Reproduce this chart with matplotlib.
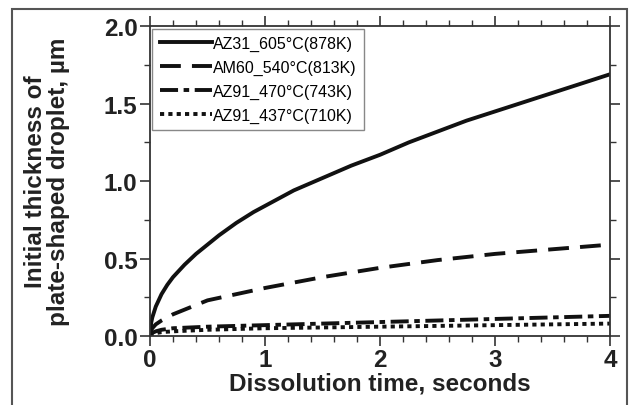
import matplotlib
matplotlib.use('Agg')
import matplotlib.pyplot as plt
from matplotlib.patches import Rectangle
from matplotlib.ticker import MultipleLocator

plt.rcParams['font.family'] = ['Liberation Sans', 'DejaVu Sans']
plt.rcParams['lines.scale_dashes'] = False

# values
t_az31 = [0, 0.01, 0.02, 0.05, 0.1, 0.15, 0.2, 0.3, 0.4, 0.5, 0.6, 0.75, 0.9, 1,
          1.25, 1.5, 1.75, 2, 2.25, 2.5, 2.75, 3, 3.25, 3.5, 3.75, 4]
az31 = [0, 0.085, 0.12, 0.19, 0.27, 0.33, 0.38, 0.46, 0.53, 0.59, 0.65, 0.73, 0.80, 0.84,
        0.94, 1.02, 1.10, 1.17, 1.25, 1.32, 1.39, 1.45, 1.51, 1.57, 1.63, 1.69]

t_am60 = [0, 0.01, 0.02, 0.05, 0.1, 0.2, 0.3, 0.5, 0.75, 1, 1.5, 2, 2.5, 3, 3.5, 4]
am60 = [0, 0.035, 0.05, 0.075, 0.10, 0.14, 0.17, 0.23, 0.27, 0.31, 0.38, 0.44, 0.49, 0.53,
        0.56, 0.59]

t_az91a = [0, 0.01, 0.02, 0.05, 0.1, 0.2, 0.5, 1, 1.5, 2, 2.5, 3, 3.5, 4]
az91a = [0, 0.015, 0.02, 0.03, 0.04, 0.05, 0.06, 0.07, 0.08, 0.09, 0.10, 0.11, 0.12, 0.13]

t_az91b = [0, 0.01, 0.02, 0.05, 0.1, 0.2, 0.5, 1, 1.5, 2, 2.5, 3, 3.5, 4]
az91b = [0, 0.008, 0.012, 0.018, 0.025, 0.03, 0.04, 0.05, 0.055, 0.06, 0.065, 0.07, 0.075,
         0.08]

labels = ['AZ31_605\u00b0C(878K)', 'AM60_540\u00b0C(813K)',
          'AZ91_470\u00b0C(743K)', 'AZ91_437\u00b0C(710K)']

fig = plt.figure(figsize=(6.33, 4.06), dpi=100)
ax = fig.add_axes([0.237, 0.170, 0.727, 0.763])

lw = 2.8
ax.plot(t_az31, az31, color='#111111', lw=lw, label=labels[0])
ax.plot(t_am60, am60, color='#111111', lw=lw, dashes=(15, 8), label=labels[1])
ax.plot(t_az91a, az91a, color='#111111', lw=lw, dashes=(13, 4, 4, 4), label=labels[2])
ax.plot(t_az91b, az91b, color='#111111', lw=lw, dashes=(3, 3), label=labels[3])

ax.set_xlim(0, 4)
ax.set_ylim(0, 2.0)
ax.xaxis.set_major_locator(MultipleLocator(1))
ax.xaxis.set_minor_locator(MultipleLocator(0.2))
ax.yaxis.set_minor_locator(MultipleLocator(0.25))
ax.set_yticks([0, 0.5, 1.0, 1.5, 2.0])
ax.set_yticklabels(['0.0', '0.5', '1.0', '1.5', '2.0'])

ax.tick_params(which='both', direction='out', top=True, right=True, color='#333333')
ax.tick_params(which='major', length=7, width=1.2, labelsize=17.5, pad=2)
ax.tick_params(which='minor', length=4, width=1.0)
for lab in ax.get_xticklabels() + ax.get_yticklabels():
    lab.set_fontweight('bold')
    lab.set_color('#222222')
for s in ax.spines.values():
    s.set_color('#333333')
    s.set_linewidth(1.3)

ax.set_xlabel('Dissolution time, seconds', fontsize=17.5, fontweight='bold',
              color='#222222', labelpad=0)
ax.set_ylabel('Initial thickness of\nplate-shaped droplet, \u00b5m', fontsize=17.5,
              fontweight='bold', color='#222222', labelpad=24, linespacing=1.05)

leg = ax.legend(loc='upper left', fontsize=11.5, handlelength=3.3, handletextpad=0.05,
                borderaxespad=0.15, fancybox=False, labelspacing=0.55,
                borderpad=0.45, framealpha=1)
leg.get_frame().set_edgecolor('#888888')
leg.get_frame().set_linewidth(1.0)

fig.patches.append(Rectangle((12 / 633, -0.05), 615 / 633, 1 - 10 / 406 + 0.05,
                             transform=fig.transFigure, fill=False,
                             edgecolor='#555555', lw=1.5))

fig.savefig('out.png', dpi=100)
